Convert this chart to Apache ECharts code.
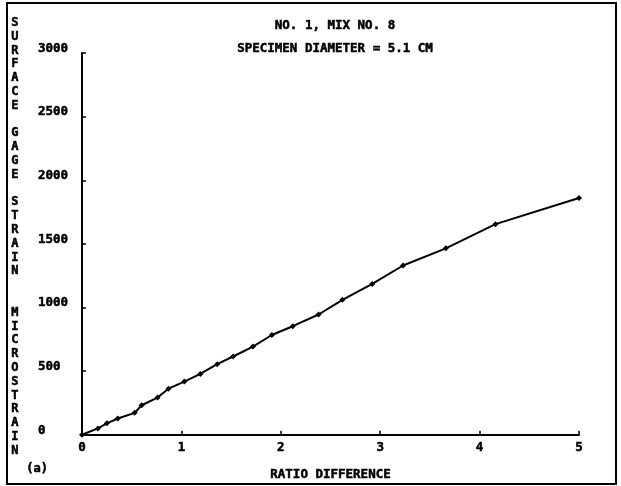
<!DOCTYPE html>
<html>
<head>
<meta charset="utf-8">
<script src="https://cdn.jsdelivr.net/npm/echarts@6/dist/echarts.min.js"></script>
<style>
html,body{margin:0;padding:0;background:#fff;}
#c{width:621px;height:486px;}
</style>
</head>
<body>
<div id="c"></div>
<script>
var titleLines = ["NO. 1, MIX NO. 8", "SPECIMEN DIAMETER = 5.1 CM"];
var yAxisTitle = "SURFACE GAGE STRAIN MICROSTRAIN";
var xAxisTitle = "RATIO DIFFERENCE";
var panelLabel = "(a)";
var ratioDifference = [0, 0.16, 0.25, 0.36, 0.53, 0.60, 0.76, 0.87, 1.03, 1.19, 1.36, 1.52, 1.72, 1.91, 2.12, 2.38, 2.62, 2.92, 3.23, 3.66, 4.16, 5.0];
var microstrain = [0, 50, 90, 128, 172, 232, 292, 362, 418, 478, 555, 615, 693, 784, 853, 945, 1060, 1185, 1330, 1465, 1655, 1860];

var FONT = "'DejaVu Sans Mono', monospace";
var pts = ratioDifference.map(function(x, i){ return [x, microstrain[i]]; });

var words = yAxisTitle.split(" ");
var stacked = [];
words.forEach(function(w, i){
  stacked = stacked.concat(w.split(""));
  if (i < words.length - 1) { stacked.push(""); if (i === 2) stacked.push(""); }
});

var bold = { textBorderColor: '#000', textBorderWidth: 0.5 };

var chart = echarts.init(document.getElementById('c'));
chart.setOption({
  backgroundColor: '#fff',
  animation: false,
  title: {
    text: titleLines.join("\n"),
    left: 330, top: 9,
    textAlign: 'center',
    textStyle: Object.assign({ fontFamily: FONT, fontSize: 12.5, fontWeight: 'bold', color: '#000', lineHeight: 23 }, bold)
  },
  grid: { left: 82, right: 42, top: 53, bottom: 48 },
  xAxis: {
    type: 'value', min: 0, max: 5, interval: 1,
    name: xAxisTitle, nameLocation: 'middle', nameGap: 33,
    nameTextStyle: Object.assign({ fontFamily: FONT, fontSize: 12.5, fontWeight: 'bold', color: '#000' }, bold),
    axisLine: { lineStyle: { color: '#000', width: 2 } },
    axisTick: { inside: true, length: 4, lineStyle: { color: '#000', width: 1.5 } },
    axisLabel: Object.assign({ fontFamily: FONT, fontSize: 12.5, fontWeight: 'bold', color: '#000', margin: 6 }, bold),
    splitLine: { show: false }
  },
  yAxis: {
    type: 'value', min: 0, max: 3000, interval: 500,
    axisLine: { show: true, lineStyle: { color: '#000', width: 2 } },
    axisTick: { show: true, inside: true, length: 4, lineStyle: { color: '#000', width: 1.5 } },
    axisLabel: Object.assign({ fontFamily: FONT, fontSize: 12.5, fontWeight: 'bold', color: '#000', align: 'left', margin: 44, verticalAlign: 'bottom', lineHeight: 9, formatter: function(v){ return String(v); } }, bold),
    splitLine: { show: false }
  },
  series: [{
    type: 'line',
    data: pts,
    symbol: 'diamond', symbolSize: 6,
    lineStyle: { color: '#000', width: 2 },
    itemStyle: { color: '#000' }
  }],
  graphic: [
    { type: 'rect', shape: { x: 7, y: 3, width: 609, height: 481 }, style: { fill: 'none', stroke: '#000', lineWidth: 2 } },
    { type: 'text', left: 11, top: 16, style: Object.assign({ text: stacked.join("\n"), fontFamily: FONT, fontSize: 12, fontWeight: 'bold', fill: '#000', lineHeight: 13.8, textAlign: 'left', stroke: '#000', lineWidth: 0.5 }) },
    { type: 'text', left: 26, top: 463, style: { text: panelLabel, fontFamily: FONT, fontSize: 12, fontWeight: 'bold', fill: '#000', stroke: '#000', lineWidth: 0.5 } }
  ]
});
</script>
</body>
</html>
